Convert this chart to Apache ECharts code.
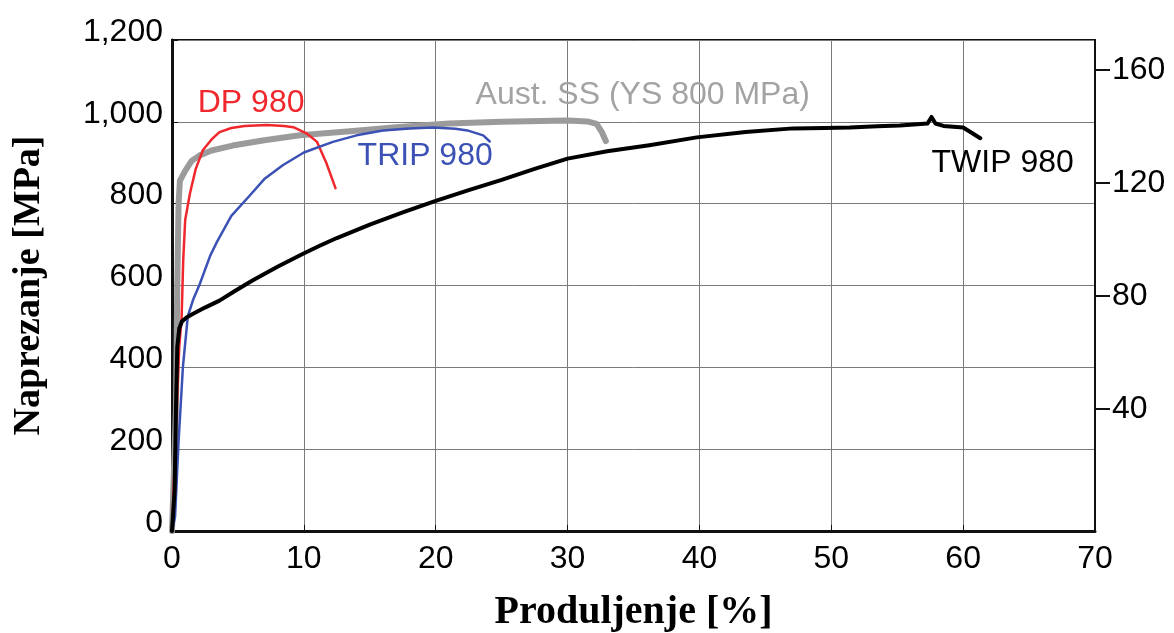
<!DOCTYPE html>
<html>
<head>
<meta charset="utf-8">
<script src="https://cdn.jsdelivr.net/npm/echarts@6/dist/echarts.min.js"></script>
<style>
  html, body { margin: 0; padding: 0; background: #fff; }
  #chart { width: 1174px; height: 633px; }
</style>
</head>
<body>
<div id="chart"></div>
<script>
// elongation [%], stress [MPa]
const dpX = [0, 0.3, 0.55, 0.73, 0.85, 1.0, 1.36, 1.8, 2.35, 3.0, 3.6, 4.5, 5.5, 7.2, 8.5, 9.2, 10.2, 11.0, 11.7, 12.4];
const dpY = [0, 250, 450, 522, 661, 760, 825, 885, 931, 957, 975, 985, 990, 992, 990, 987, 972, 951, 900, 838];

const ssX = [0, 0.3, 0.4, 0.5, 0.6, 1.0, 1.5, 2.1, 3.0, 4.6, 7.0, 9.7, 13.5, 17.0, 21.0, 25.0, 30.0, 31.5, 32.2, 32.6, 32.9];
const ssY = [0, 300, 600, 800, 856, 880, 905, 918, 930, 942, 955, 967, 977, 987, 996, 1000, 1003, 1001, 995, 975, 953];

const tripX = [0, 0.23, 0.5, 0.83, 1.2, 1.6, 2.1, 2.9, 3.4, 4.5, 5.9, 7.0, 8.4, 10.0, 12.2, 14.0, 16.0, 18.0, 19.8, 21.5, 22.4, 23.6, 24.1];
const tripY = [0, 34, 220, 402, 525, 565, 603, 673, 706, 770, 820, 860, 894, 925, 951, 967, 979, 984, 986, 983, 979, 967, 952];

const twipX = [0, 0.2, 0.3, 0.4, 0.55, 0.75, 1.1, 1.6, 2.5, 3.6, 4.8, 6.1, 8.0, 9.9, 11.2, 12.5, 15.0, 17.5, 20.0, 22.5, 25.0, 27.5, 30.0, 33.0, 36.2, 39.8, 43.5, 47.1, 49.5, 51.4, 53.5, 55.2, 57.3, 57.6, 57.9, 58.5, 60.0, 60.7, 61.3];
const twipY = [0, 100, 300, 450, 495, 512, 522, 531, 546, 563, 587, 612, 646, 677, 697, 716, 749, 779, 807, 833, 858, 885, 910, 928, 943, 962, 975, 984, 985, 986, 989, 991, 996, 1012, 996, 990, 986, 972, 960];

const xTicks = [0, 10, 20, 30, 40, 50, 60, 70];
const mpaTicks = [0, 200, 400, 600, 800, 1000, 1200];
const ksiTicks = [40, 80, 120, 160];

const labels = [
  { name: 'DP 980', x: 6.0, y: 1045, color: '#f0282d' },
  { name: 'Aust. SS (YS 800 MPa)', x: 35.7, y: 1065, color: '#a3a3a3' },
  { name: 'TRIP 980', x: 19.2, y: 915, color: '#3b52b4' },
  { name: 'TWIP 980', x: 63.0, y: 900, color: '#000000' }
];

const pairs = (xs, ys) => xs.map((x, i) => [x, ys[i]]);

const chart = echarts.init(document.getElementById('chart'));

const font = 'Liberation Sans, Arial, sans-serif';
const serif = 'Liberation Serif, Times New Roman, serif';

const lineSeries = (name, xs, ys, color, width) => ({
  name: name,
  type: 'line',
  data: pairs(xs, ys),
  showSymbol: false,
  symbol: 'none',
  lineStyle: { color: color, width: width, join: 'round', cap: 'round' },
  animation: false
});

const labelSeries = {
  type: 'scatter',
  data: labels.map(l => ({
    value: [l.x, l.y],
    label: { show: true, formatter: l.name, color: l.color }
  })),
  symbolSize: 0,
  itemStyle: { opacity: 1 },
  label: { position: 'inside', fontFamily: font, fontSize: 32, opacity: 1 },
  silent: true,
  animation: false
};

const option = {
  backgroundColor: '#fff',
  grid: {
    left: 172, right: 79, top: 40, bottom: 102,
    outerBoundsMode: 'none',
    show: true, borderColor: '#111', borderWidth: 2
  },
  xAxis: {
    type: 'value',
    min: 0, max: 70, interval: 10,
    name: 'Produljenje [%]',
    nameLocation: 'middle',
    nameGap: 62,
    nameTextStyle: { fontFamily: serif, fontWeight: 'bold', fontSize: 40, color: '#000' },
    axisLine: { show: true, lineStyle: { color: '#111', width: 3 } },
    axisTick: { show: true, inside: true, length: 6, lineStyle: { color: '#111' } },
    axisLabel: {
      fontFamily: font, fontSize: 32, color: '#000', margin: 12,
      formatter: v => (xTicks.includes(v) ? String(v) : '')
    },
    splitLine: { show: true, lineStyle: { color: '#7a7a7a', width: 1 } }
  },
  yAxis: [
    {
      type: 'value',
      min: 0, max: 1200, interval: 200,
      name: 'Naprezanje [MPa]',
      nameLocation: 'middle',
      nameGap: 124,
      nameTextStyle: { fontFamily: serif, fontWeight: 'bold', fontSize: 38, color: '#000' },
      axisLine: { show: true, lineStyle: { color: '#111', width: 3 } },
      axisTick: { show: true, inside: true, length: 6, lineStyle: { color: '#111' } },
      axisLabel: {
        fontFamily: font, fontSize: 32, color: '#000', margin: 9,
        verticalAlign: 'bottom', lineHeight: 16,
        formatter: v => (mpaTicks.includes(v) ? v.toLocaleString('en-US') : '')
      },
      splitLine: { show: true, lineStyle: { color: '#7a7a7a', width: 1 } }
    },
    {
      type: 'value',
      position: 'right',
      min: -3.2, max: 170.6,
      axisLine: { show: true, lineStyle: { color: '#111', width: 2 } },
      axisTick: { show: true, length: 15, customValues: ksiTicks, lineStyle: { color: '#111', width: 2 } },
      axisLabel: {
        fontFamily: font, fontSize: 32, color: '#000', margin: 17,
        customValues: ksiTicks
      },
      splitLine: { show: false }
    }
  ],
  series: [
    lineSeries('Aust. SS', ssX, ssY, '#9b9b9b', 6),
    lineSeries('DP 980', dpX, dpY, '#f0282d', 2.5),
    lineSeries('TRIP 980', tripX, tripY, '#3b52b4', 2.5),
    lineSeries('TWIP 980', twipX, twipY, '#000000', 4),
    labelSeries
  ]
};

chart.setOption(option);
</script>
</body>
</html>
